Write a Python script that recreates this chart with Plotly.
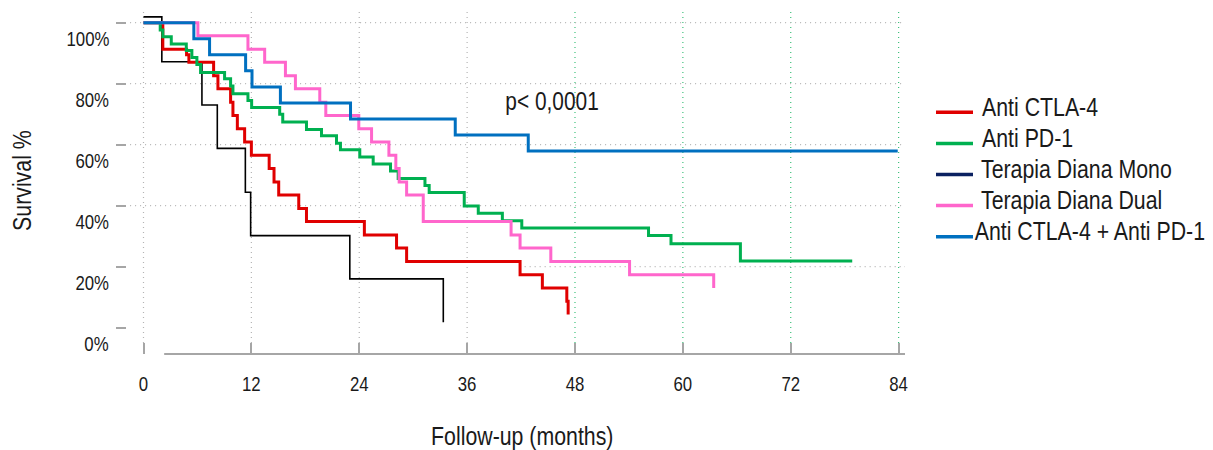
import json
import plotly.graph_objects as go

# Kaplan-Meier survival by treatment group (months, survival %)
series_names = ["Anti CTLA-4", "Anti PD-1", "Terapia Diana Mono",
                "Terapia Diana Dual", "Anti CTLA-4 + Anti PD-1"]

ctla4_months = [0, 2.15, 4.79, 5.05, 7.80, 8.28, 9.69, 9.95, 10.44, 11.25, 12.0,
                13.98, 14.52, 15.04, 17.27, 18.13, 24.57, 28.15, 29.27, 41.89,
                44.37, 47.09, 47.24]
ctla4_surv = [100, 91.3, 89.5, 87.0, 82.6, 78.3, 73.9, 69.6, 65.2, 60.9, 56.5,
              52.2, 47.8, 43.5, 39.1, 34.8, 30.4, 26.1, 21.7, 17.4, 13.0, 8.7, 4.3]

pd1_months = [0, 1.86, 2.15, 3.09, 4.76, 5.38, 5.94, 6.35, 9.02, 9.69, 9.95,
              11.62, 12.03, 15.15, 15.49, 18.13, 19.80, 21.47, 21.91, 24.06,
              25.55, 27.48, 28.33, 31.31, 31.78, 35.68, 37.24, 39.92, 42.08,
              56.18, 58.68, 66.40, 78.84]
pd1_surv = [100, 97.6, 95.4, 93.0, 90.9, 88.6, 86.3, 83.7, 81.6, 79.2, 76.7,
            74.5, 72.2, 70.0, 67.4, 65.0, 62.9, 60.5, 58.3, 56.0, 53.7, 51.4,
            48.9, 46.6, 44.3, 39.9, 37.5, 35.1, 32.7, 30.2, 27.5, 21.9, 21.9]

mono_months = [0, 2.04, 6.50, 8.21, 11.33, 11.92, 22.95, 33.35]
mono_surv = [101.9, 87.2, 73.0, 58.8, 44.4, 30.2, 16.0, 1.8]

dual_months = [0, 6.05, 11.62, 13.48, 15.79, 16.90, 19.61, 20.28, 23.95, 25.37,
               27.30, 28.07, 28.44, 29.27, 31.12, 40.89, 41.89, 45.31, 54.07, 63.43]
dual_surv = [100, 95.7, 91.3, 87.0, 82.6, 78.3, 73.9, 69.6, 65.2, 60.9, 56.5,
             52.2, 47.8, 43.5, 34.8, 30.4, 26.1, 21.7, 17.4, 13.0]

combo_months = [0, 5.6, 7.35, 11.36, 12.07, 15.23, 23.03, 34.68, 42.8, 83.9]
combo_surv = [100, 94.7, 89.5, 84.2, 78.9, 73.7, 68.4, 63.2, 57.9, 57.9]

x_ticks = [0, 12, 24, 36, 48, 60, 72, 84]
y_ticks = [0, 20, 40, 60, 80, 100]
y_tick_labels = ["0%", "20%", "40%", "60%", "80%", "100%"]
p_value_text = "p< 0,0001"
x_title = "Follow-up (months)"
y_title = "Survival %"

FONT = "Liberation Sans, Arial, sans-serif"
TEXT = "#1a1a1a"
GRID = "#b4b4b4"

line_colors = ["#e00000", "#00b050", "#000000", "#ff66cc", "#0070c0"]
legend_colors = ["#e00000", "#00b050", "#0b2161", "#ff66cc", "#0070c0"]
line_widths = [3, 3, 1.6, 3, 3]

curves = [
    (ctla4_months, ctla4_surv),
    (pd1_months, pd1_surv),
    (mono_months, mono_surv),
    (dual_months, dual_surv),
    (combo_months, combo_surv),
]

fig = go.Figure()

# drawing order: mono, CTLA-4, PD-1, dual, combination on top
for i in [2, 0, 1, 3, 4]:
    months, surv = curves[i]
    fig.add_trace(go.Scatter(
        x=months, y=surv, mode="lines", name=series_names[i],
        line=dict(color=line_colors[i], width=line_widths[i], shape="hv"),
        showlegend=False, hoverinfo="skip",
    ))

x_range = [-1.835, 84.71]
y_range = [-8.62, 103.5]

plot_left, plot_right, plot_top, plot_bottom = 127, 905, 12, 354
pw = plot_right - plot_left
ph = plot_bottom - plot_top


def px_x(px):
    return (px - plot_left) / pw


def px_y(py):
    return (plot_bottom - py) / ph


shapes = []
# vertical dotted grid (later years drawn in green)
for t in x_ticks:
    shapes.append(dict(
        type="line", xref="x", yref="paper", x0=t, x1=t, y0=0.032, y1=1.005,
        line=dict(color=GRID if t < 48 else "#3cc07a", width=1.2, dash="1px,4px"),
        layer="below",
    ))
# horizontal dotted grid
for v in [40, 60, 80, 100]:
    shapes.append(dict(
        type="line", xref="paper", yref="y", x0=0.004, x1=1, y0=v, y1=v,
        line=dict(color=GRID, width=1.2, dash="1px,4px"), layer="below",
    ))
shapes.append(dict(
    type="line", xref="x", yref="y", x0=42.4, x1=x_range[1], y0=20, y1=20,
    line=dict(color=GRID, width=1.2, dash="1px,4px"), layer="below",
))
# x axis baseline
shapes.append(dict(
    type="line", xref="x", yref="paper", x0=2.3, x1=x_range[1], y0=0, y1=0,
    line=dict(color="#a6a6a6", width=2), layer="below",
))

annotations = []

# y tick labels sit a little below their tick marks
for v, lab in zip(y_ticks, y_tick_labels):
    annotations.append(dict(
        xref="paper", yref="y", x=px_x(111), y=v, yshift=-15.5,
        xanchor="right", yanchor="middle", align="right", text=lab,
        showarrow=False, font=dict(family=FONT, size=20.5, color=TEXT),
    ))

# legend built from line samples and labels; the longest label is
# anchored on its right end so it stays inside the figure
for i, name in enumerate(series_names):
    row_y = 112.3 + 31.1 * i
    shapes.append(dict(
        type="line", xref="paper", yref="paper",
        x0=px_x(936), x1=px_x(973), y0=px_y(row_y), y1=px_y(row_y),
        line=dict(color=legend_colors[i], width=3.5),
    ))
    if i == len(series_names) - 1:
        anchor, lx = "right", 1207
    else:
        anchor, lx = "left", 980 if i < 2 else 979
    annotations.append(dict(
        xref="paper", yref="paper", x=px_x(lx), y=px_y(row_y - 5.5),
        xanchor=anchor, yanchor="middle", align=anchor, text=name,
        showarrow=False, font=dict(family=FONT, size=26, color=TEXT),
    ))

annotations.append(dict(
    xref="x", yref="y", x=45.4, y=74.3, xanchor="center", yanchor="middle",
    text=p_value_text, showarrow=False,
    font=dict(family=FONT, size=25.5, color=TEXT),
))
annotations.append(dict(
    xref="paper", yref="paper", x=px_x(522), y=px_y(436), xanchor="center",
    yanchor="middle", text=x_title, showarrow=False,
    font=dict(family=FONT, size=26, color=TEXT),
))
annotations.append(dict(
    xref="paper", yref="paper", x=px_x(22), y=px_y(181), xanchor="center",
    yanchor="middle", text=y_title, textangle=-90, showarrow=False,
    font=dict(family=FONT, size=26, color=TEXT),
))

fig.update_layout(
    width=1213, height=450,
    margin=dict(l=plot_left, r=1213 - plot_right, t=plot_top, b=450 - plot_bottom),
    paper_bgcolor="white", plot_bgcolor="white",
    shapes=shapes, annotations=annotations,
    showlegend=False,
    xaxis=dict(
        range=x_range, tickvals=x_ticks, ticktext=[str(t) for t in x_ticks],
        ticks="inside", ticklen=11, tickwidth=1.5, tickcolor="#a6a6a6",
        showgrid=False, zeroline=False, showline=False,
        tickfont=dict(family=FONT, size=20.5, color=TEXT),
        ticklabelstandoff=16,
    ),
    yaxis=dict(
        range=y_range, tickvals=y_ticks,
        ticks="outside", ticklen=10, tickwidth=2, tickcolor="#a6a6a6",
        showgrid=False, zeroline=False, showline=False, showticklabels=False,
    ),
)

# condensed lettering: scale each label horizontally about its anchor point
# (the text's own x), and shrink annotation boxes to match
squeeze_js = """
var gd = document.getElementById('{plot_id}');
var k = %s;
gd.querySelectorAll('text').forEach(function (t) {
  if (!t.textContent || !t.textContent.trim()) { return; }
  var ax = parseFloat(t.getAttribute('x')) || 0;
  var prev = t.getAttribute('transform') || '';
  t.setAttribute('transform', prev + ' translate(' + ax + ',0) scale(' + k +
                 ',1) translate(' + (-ax) + ',0)');
});
gd.querySelectorAll('g.annotation-text-g').forEach(function (g) {
  var t = g.querySelector('text');
  var r = g.querySelector('rect.bg');
  if (!t || !r) { return; }
  var w = parseFloat(r.getAttribute('width')) || 0;
  var x = parseFloat(r.getAttribute('x')) || 0;
  var a = t.getAttribute('text-anchor');
  var shift = a === 'end' ? w * (1 - k) : (a === 'middle' ? w * (1 - k) / 2 : 0);
  r.setAttribute('x', (x + shift).toFixed(2));
  r.setAttribute('width', (w * k).toFixed(2));
});
""" % json.dumps(0.82)

fig.write_html("out.html", post_script=squeeze_js)
